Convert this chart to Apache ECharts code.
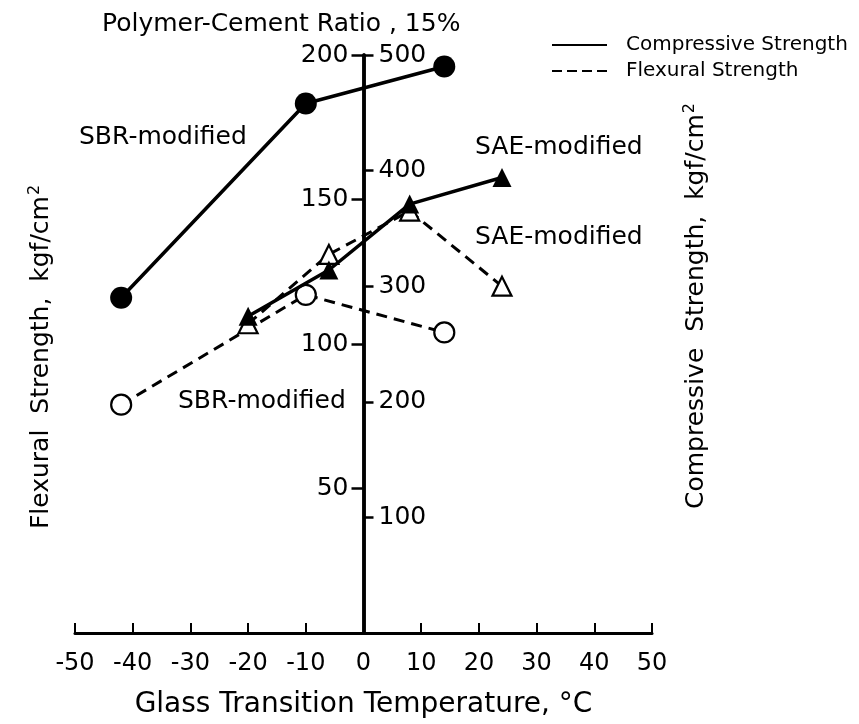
<!DOCTYPE html>
<html><head><meta charset="utf-8">
<script src="https://cdn.jsdelivr.net/npm/echarts@6/dist/echarts.min.js"></script>
<style>html,body{margin:0;padding:0;background:#fff}#c{width:859px;height:724px}</style>
</head><body><div id="c"></div>
<script>
// ---- data ----
const tempSBR = [-42, -10, 14];          // Glass transition temperature, °C
const tempSAE = [-20, -6, 8, 24];
const compSBR = [290, 458, 490];         // Compressive strength, kgf/cm2
const compSAE = [274, 314, 371, 394];
const flexSBR = [79, 117, 104];          // Flexural strength, kgf/cm2
const flexSAE = [107, 131, 146, 120];
const flexTicks = [50, 100, 150, 200];
const compTicks = [100, 200, 300, 400, 500];

const FONT = 'DejaVu Sans';
const pairs = (xs, ys) => xs.map((x, i) => [x, ys[i]]);

// layout: grid box and the shift that puts both y axes on x = 0
const G = {left: 75, right: 207, top: 55, bottom: 91};
const gridW = 859 - G.left - G.right;
const shift = -gridW / 2;   // move axes from grid edges to the centre (x = 0)

const chart = echarts.init(document.getElementById('c'), null, {renderer: 'canvas'});

const solidLine = {color: '#000', width: 3.5, type: 'solid'};
const dashLine = {color: '#000', width: 3, type: [11, 7]};
const supStyle = {fontFamily: FONT, fontSize: 16, color: '#000', padding: [0, 0, 14, 1]};

chart.setOption({
  backgroundColor: '#fff',
  animation: false,
  title: {
    text: 'Polymer-Cement Ratio , 15%',
    left: 97, top: 7,
    textStyle: {fontFamily: FONT, fontSize: 25, fontWeight: 'normal', color: '#000'}
  },
  grid: Object.assign({outerBoundsMode: 'none', containLabel: false}, G),
  xAxis: {
    type: 'value', min: -50, max: 50, interval: 10,
    name: 'Glass Transition Temperature, °C',
    nameLocation: 'middle', nameGap: 58,
    nameTextStyle: {fontFamily: FONT, fontSize: 28, color: '#000'},
    axisLine: {onZero: false, lineStyle: {color: '#000', width: 3}},
    axisTick: {inside: true, length: 10, lineStyle: {color: '#000', width: 2}},
    axisLabel: {margin: 19, fontFamily: FONT, fontSize: 24, color: '#000'},
    splitLine: {show: false}
  },
  yAxis: [
    {
      type: 'value', min: 0, max: 200, position: 'left', offset: shift,
      name: 'Flexural  Strength,  kgf/cm{sup|2}',
      nameLocation: 'middle', nameGap: 307, nameRotate: 90,
      nameTextStyle: {fontFamily: FONT, fontSize: 25, color: '#000', padding: [0, 26, 0, 0],
        rich: {sup: supStyle}},
      axisLine: {onZero: false, lineStyle: {color: '#000', width: 3.5}},
      axisTick: {show: true, length: 12, customValues: flexTicks, lineStyle: {color: '#000', width: 2.5}},
      axisLabel: {customValues: flexTicks, margin: 15, fontFamily: FONT, fontSize: 25, color: '#000'},
      splitLine: {show: false}
    },
    {
      type: 'value', min: 0, max: 500, position: 'right', offset: shift,
      name: 'Compressive  Strength,  kgf/cm{sup|2}',
      nameLocation: 'middle', nameGap: 318, nameRotate: 90,
      nameTextStyle: {fontFamily: FONT, fontSize: 25, color: '#000', padding: [0, 0, 0, 76],
        rich: {sup: supStyle}},
      axisLine: {show: true, onZero: false, lineStyle: {color: '#000', width: 3.5}},
      axisTick: {show: true, length: 10, customValues: compTicks, lineStyle: {color: '#000', width: 2.5}},
      axisLabel: {customValues: compTicks, margin: 15, fontFamily: FONT, fontSize: 25, color: '#000'},
      splitLine: {show: false}
    }
  ],
  series: [
    {
      name: 'Compressive Strength (SBR-modified)', type: 'line', yAxisIndex: 1,
      data: pairs(tempSBR, compSBR), symbol: 'circle', symbolSize: 22,
      itemStyle: {color: '#000'}, lineStyle: solidLine, z: 3
    },
    {
      name: 'Compressive Strength (SAE-modified)', type: 'line', yAxisIndex: 1,
      data: pairs(tempSAE, compSAE), symbol: 'triangle', symbolSize: 19,
      itemStyle: {color: '#000'}, lineStyle: solidLine, z: 3
    },
    {
      name: 'Flexural Strength (SBR-modified)', type: 'line', yAxisIndex: 0,
      data: pairs(tempSBR, flexSBR), symbol: 'circle', symbolSize: 20,
      itemStyle: {color: '#fff', borderColor: '#000', borderWidth: 2.2},
      lineStyle: dashLine, z: 2
    },
    {
      name: 'Flexural Strength (SAE-modified)', type: 'line', yAxisIndex: 0,
      data: pairs(tempSAE, flexSAE), symbol: 'triangle', symbolSize: 19,
      itemStyle: {color: '#fff', borderColor: '#000', borderWidth: 2.2},
      lineStyle: dashLine, z: 2
    }
  ],
  graphic: [
    // legend
    {type: 'line', shape: {x1: 552, y1: 45, x2: 607, y2: 45}, style: {stroke: '#000', lineWidth: 2.2}},
    {type: 'text', x: 626, y: 45, style: {text: 'Compressive Strength', font: '20px "DejaVu Sans"', fill: '#000', textVerticalAlign: 'middle'}},
    {type: 'line', shape: {x1: 552, y1: 71, x2: 607, y2: 71}, style: {stroke: '#000', lineWidth: 2.2, lineDash: [10, 5]}},
    {type: 'text', x: 626, y: 71, style: {text: 'Flexural Strength', font: '20px "DejaVu Sans"', fill: '#000', textVerticalAlign: 'middle'}},
    // annotations
    {type: 'text', x: 79, y: 137, style: {text: 'SBR-modified', font: '25px "DejaVu Sans"', fill: '#000', textVerticalAlign: 'middle'}},
    {type: 'text', x: 475, y: 147, style: {text: 'SAE-modified', font: '25px "DejaVu Sans"', fill: '#000', textVerticalAlign: 'middle'}},
    {type: 'text', x: 475, y: 237, style: {text: 'SAE-modified', font: '25px "DejaVu Sans"', fill: '#000', textVerticalAlign: 'middle'}},
    {type: 'text', x: 178, y: 401, style: {text: 'SBR-modified', font: '25px "DejaVu Sans"', fill: '#000', textVerticalAlign: 'middle'}}
  ]
});
</script>
</body></html>
